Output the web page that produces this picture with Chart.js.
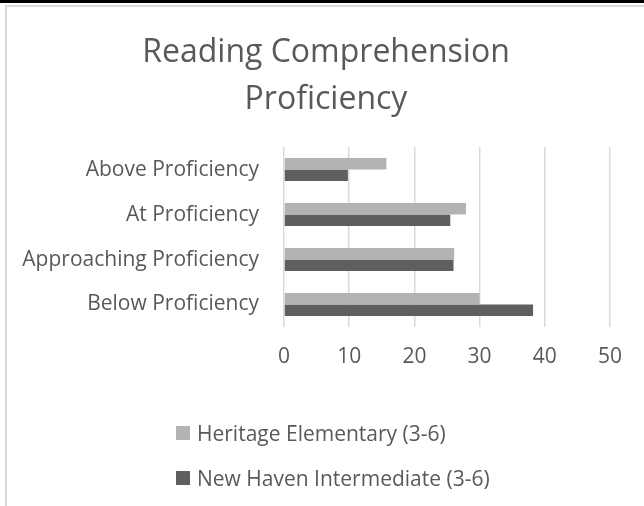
<!DOCTYPE html>
<html>
<head>
<meta charset="utf-8">
<script src="https://cdn.jsdelivr.net/npm/chart.js@4.4.0/dist/chart.umd.min.js"></script>
<style>
  html, body { margin: 0; padding: 0; background: #fff; }
  body { width: 644px; height: 506px; position: relative; overflow: hidden; font-family: "Open Sans", sans-serif; }
  #topband { position: absolute; left: 0; top: 0; width: 644px; height: 3px; background: #000; }
  #frame { position: absolute; left: 5px; top: 5px; width: 650px; height: 520px;
           border-left: 2px solid #d9d9d9; border-top: 2px solid #d9d9d9; }
  #wrap { position: absolute; left: 0; top: 0; width: 644px; height: 506px; }
  #legend { position: absolute; left: 176px; top: 410px; color: #595959; font-size: 21px; }
  #legend .item { height: 45px; display: flex; align-items: center; white-space: nowrap; }
  #legend .box { width: 14px; height: 14px; margin-right: 7px; display: inline-block; }
</style>
</head>
<body>
<div id="topband"></div>
<div id="frame"></div>
<div id="wrap"><canvas id="myBarChart" width="644" height="506"></canvas></div>
<div id="legend"></div>
<script>
  const categories = [
    'Above Proficiency',
    'At Proficiency',
    'Approaching Proficiency',
    'Below Proficiency'
  ];
  const heritageValues = [15.7, 27.9, 26.1, 30.0];
  const newHavenValues = [9.8, 25.5, 26.0, 38.2];
  const seriesNames = ['Heritage Elementary (3-6)', 'New Haven Intermediate (3-6)'];
  const seriesColors = ['#b3b3b3', '#5f5f5f'];

  const textColor = '#595959';
  const font = 'Open Sans';
  const padLeft = 5;

  const barData = {
    labels: categories,
    datasets: [{
      label: seriesNames[0],
      data: heritageValues,
      backgroundColor: seriesColors[0],
      categoryPercentage: 0.51,
      barPercentage: 1.0
    }, {
      label: seriesNames[1],
      data: newHavenValues,
      backgroundColor: seriesColors[1],
      categoryPercentage: 0.51,
      barPercentage: 1.0
    }]
  };

  // excel centres the title over the whole chart frame, not the padded area
  const centerTitle = {
    id: 'centerTitle',
    afterLayout(chart) {
      const t = chart.titleBlock;
      if (!t) return;
      t.left = 5;
      t.right = 647;
      t.width = t.right - t.left;
    }
  };

  const barConfig = {
    type: 'bar',
    data: barData,
    plugins: [centerTitle],
    options: {
      indexAxis: 'y',
      responsive: false,
      animation: false,
      layout: {
        padding: { top: 0, right: 34, bottom: 118, left: padLeft }
      },
      scales: {
        x: {
          min: 0,
          max: 50,
          ticks: { stepSize: 10, color: textColor, padding: 20, font: { family: font, size: 21, lineHeight: 1.0 } },
          grid: { color: '#d9d9d9', lineWidth: 1.5, drawTicks: false },
          border: { display: false }
        },
        y: {
          ticks: { color: textColor, padding: 17, font: { family: font, size: 21 } },
          grid: { display: false },
          border: { display: false },
          // keep the value axis starting where the original puts it
          afterFit: (scale) => { scale.width = 284 - padLeft; }
        }
      },
      plugins: {
        legend: { display: false },
        tooltip: { enabled: false },
        title: {
          display: true,
          text: ['Reading Comprehension', 'Proficiency'],
          color: textColor,
          font: { family: font, size: 32, weight: 'normal', lineHeight: 1.47 },
          padding: { top: 29, bottom: 24 }
        }
      }
    }
  };

  const myBarChart = new Chart(document.getElementById('myBarChart'), barConfig);

  // legend, stacked the way the spreadsheet shows it
  const legendEl = document.getElementById('legend');
  seriesNames.forEach((name, i) => {
    const row = document.createElement('div');
    row.className = 'item';
    row.innerHTML = '<span class="box" style="background:' + seriesColors[i] + '"></span>' + name;
    legendEl.appendChild(row);
  });
</script>
</body>
</html>
